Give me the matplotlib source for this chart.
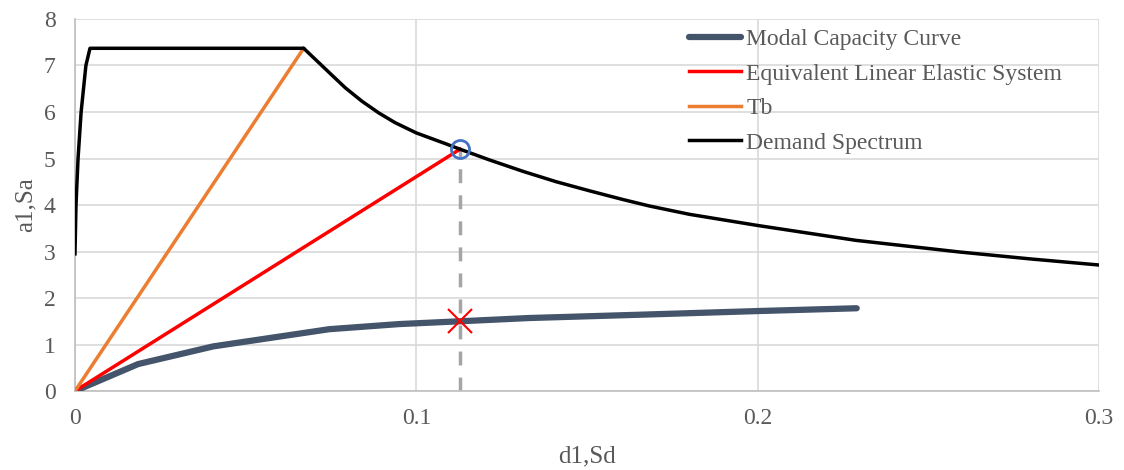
import matplotlib
matplotlib.use("Agg")
import matplotlib.pyplot as plt

# Demand spectrum (ADRS)
demand_sd = [0.0, 0.0003, 0.0009, 0.0018, 0.0032, 0.0044, 0.067, 0.0743, 0.0792, 0.0841,
             0.089, 0.0938, 0.1, 0.1085, 0.1128, 0.1214, 0.1314, 0.141, 0.151, 0.1604,
             0.1682, 0.18, 0.2, 0.2288, 0.2591, 0.28, 0.3]
demand_sa = [2.95, 4.0, 5.0, 6.0, 7.0, 7.37, 7.37, 6.86, 6.52, 6.23,
             5.98, 5.77, 5.55, 5.32, 5.2, 4.97, 4.72, 4.5, 4.3, 4.12,
             3.98, 3.8, 3.56, 3.24, 2.99, 2.84, 2.71]

# Modal capacity curve
cap_sd = [0.0, 0.0185, 0.0405, 0.0745, 0.095, 0.1128, 0.133, 0.165, 0.2, 0.229]
cap_sa = [0.0, 0.58, 0.96, 1.33, 1.44, 1.50, 1.57, 1.64, 1.72, 1.78]

# Equivalent linear elastic system and Tb lines
els_sd = [0.0, 0.1128]
els_sa = [0.0, 5.2]
tb_sd = [0.0, 0.067]
tb_sa = [0.0, 7.37]

# performance point
pp_sd = 0.1128
pp_sa_demand = 5.2
pp_sa_cap = 1.50

plt.rcParams['font.family'] = ['Liberation Serif', 'DejaVu Serif']
txt = '#595959'

fig = plt.figure(figsize=(11.24, 4.70), dpi=100)
ax = fig.add_axes([0.0667, 0.168, 0.9111, 0.7916])

ax.plot(cap_sd, cap_sa, color='#44546A', lw=4.5, solid_capstyle='round',
        label='Modal Capacity Curve', zorder=3)
ax.plot(els_sd, els_sa, color='#FF0000', lw=2.5, label='Equivalent Linear Elastic System', zorder=3)
ax.plot(tb_sd, tb_sa, color='#ED7D31', lw=2.5, label='Tb', zorder=3)
ax.plot(demand_sd, demand_sa, color='black', lw=2.5, label='Demand Spectrum', zorder=3)

ax.plot([pp_sd, pp_sd], [0, pp_sa_demand], color='#A5A5A5', lw=2.5, dashes=(4, 3.5), zorder=2)
ax.plot([pp_sd], [pp_sa_demand], 'o', mfc='none', mec='#4472C4', mew=2, ms=13, zorder=4)
ax.plot([pp_sd], [pp_sa_cap], 'x', color='#FF0000', mew=1.5, ms=17, zorder=4)

ax.set_xlim(0, 0.3)
ax.set_ylim(0, 8)
ax.set_xticks([0, 0.1, 0.2, 0.3])
ax.set_xticklabels(['0', '0.1', '0.2', '0.3'])
ax.set_yticks(range(0, 9))
ax.grid(True, color='#D9D9D9', lw=1.2)
ax.set_axisbelow(True)
for s in ['top', 'right']:
    ax.spines[s].set_visible(False)
for s in ['left', 'bottom']:
    ax.spines[s].set_color('#BFBFBF')
    ax.spines[s].set_linewidth(1.2)
ax.tick_params(length=0, labelsize=17, labelcolor=txt)
ax.tick_params(axis='y', pad=14)
ax.tick_params(axis='x', pad=12)

ax.set_xlabel('d1,Sd', fontsize=18, color=txt, labelpad=12)
ax.set_ylabel('a1,Sa', fontsize=18, color=txt, labelpad=5)

leg = ax.legend(loc='upper left', bbox_to_anchor=(0.6, 0.974), frameon=False, fontsize=17,
                labelcolor=txt, handlelength=2.2, handletextpad=0.2, labelspacing=0.55,
                borderpad=0, borderaxespad=0)

fig.savefig('out.png', dpi=100)
